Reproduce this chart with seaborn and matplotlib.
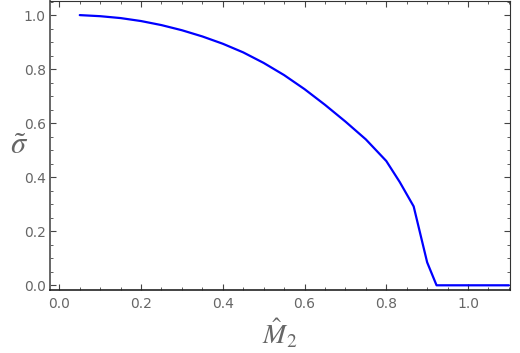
import numpy as np
import pandas as pd
import matplotlib
matplotlib.use('Agg')
import matplotlib.pyplot as plt
from matplotlib.ticker import MultipleLocator
import seaborn as sns

# valeurs
m2_hat = [0.05, 0.10, 0.15, 0.20, 0.25, 0.30, 0.35, 0.40, 0.45, 0.50, 0.55,
          0.60, 0.65, 0.70, 0.75, 0.80, 0.833, 0.867, 0.90, 0.923, 1.10]
sigma_tilde = [1.000, 0.996, 0.989, 0.978, 0.963, 0.944, 0.921, 0.894, 0.862,
               0.823, 0.778, 0.726, 0.668, 0.606, 0.540, 0.460, 0.382, 0.292,
               0.085, 0.000, 0.000]

x_ticks = [0.0, 0.2, 0.4, 0.6, 0.8, 1.0]
y_ticks = [0.0, 0.2, 0.4, 0.6, 0.8, 1.0]

df = pd.DataFrame({'M2': m2_hat, 'sigma': sigma_tilde})

sns.set_style('ticks')
plt.rcParams['mathtext.fontset'] = 'stix'
plt.rcParams['font.family'] = ['DejaVu Sans']

gray = '#666666'
fig = plt.figure(figsize=(5.2, 3.53), dpi=100)
ax = fig.add_axes([0.096, 0.178, 0.885, 0.819])

sns.lineplot(data=df, x='M2', y='sigma', color='#0000ff', linewidth=1.6,
             sort=False, ax=ax)

ax.set_xlim(-0.023, 1.103)
ax.set_ylim(-0.018, 1.052)
ax.set_xticks(x_ticks)
ax.set_yticks(y_ticks)
ax.set_xticklabels([f'{v:.1f}' for v in x_ticks])
ax.set_yticklabels([f'{v:.1f}' for v in y_ticks])
ax.xaxis.set_minor_locator(MultipleLocator(0.05))
ax.yaxis.set_minor_locator(MultipleLocator(0.05))

ax.tick_params(which='both', direction='in', top=True, right=True,
               color='#444444', labelcolor=gray, labelsize=10)
ax.tick_params(which='major', length=4, width=0.8)
ax.tick_params(which='minor', length=2, width=0.6)
ax.tick_params(axis='x', pad=5)
ax.tick_params(axis='y', pad=3)

for side in ['top', 'right']:
    ax.spines[side].set_color('#333333')
    ax.spines[side].set_linewidth(0.8)
ax.spines['left'].set_color('#666666')
ax.spines['left'].set_linewidth(1.4)
ax.spines['bottom'].set_color('#222222')
ax.spines['bottom'].set_linewidth(1.2)

ax.set_xlabel(r'$\hat{M}_2$', fontsize=20, color=gray, labelpad=4)
ax.set_ylabel(r'$\tilde{\sigma}$', fontsize=22, color=gray, rotation=0,
              labelpad=10)
ax.yaxis.set_label_coords(-0.068, 0.45)

fig.savefig('out.png', dpi=100)
